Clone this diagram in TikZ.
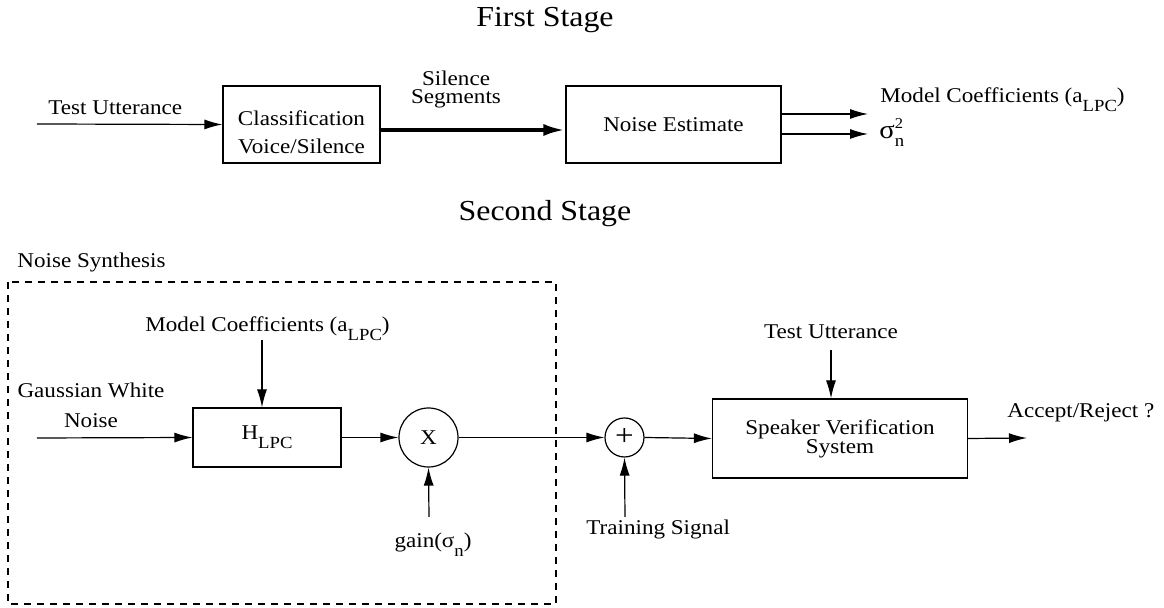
\documentclass[tikz,border=0pt]{standalone}
\usepackage{fontspec}
\setmainfont{Liberation Serif}[FakeStretch=1.1]
\usepackage{tikz}
\usetikzlibrary{calc, arrows.meta, positioning}
\newcommand{\lowsub}[1]{\raisebox{-4.5pt}{\fontsize{8.5}{10}\selectfont #1}}
\tikzset{
    block/.style={draw, rectangle, inner sep=0pt, line width=0.6pt, align=center},
    junc/.style={draw, circle, inner sep=0pt, line width=0.6pt},
    sig/.style={-{Latex[length=9pt,width=5pt]}, line width=0.6pt},
    bigsig/.style={-{Latex[length=11pt,width=6pt]}, line width=2pt},
    every node/.style={font=\fontsize{10.5}{13}\selectfont},
    title/.style={font=\fontsize{14.5}{17}\selectfont, anchor=base}
}

\begin{document}
\begin{tikzpicture}[x=0.5pt, y=-0.5pt]
        \useasboundingbox (0,0) rectangle (1164,608);
        \node[title] (tfirst) at (545,27) {First Stage};
        \node[title] (tsecond) at (545,221) {Second Stage};

        \node[block, minimum width=78.5pt, minimum height=38.5pt,
              label={[align=center, yshift=-4pt]center:Classification\\[1pt]Voice/Silence}] (cls) at (301.5,124.5) {};
        \node[block, minimum width=107.5pt, minimum height=38.5pt] (nest) at (673.5,124.5) {Noise Estimate};
        \coordinate (tuin) at (37,124);
        \coordinate (mcout) at (868,114);
        \coordinate (sgout) at (868,134);
        \node[anchor=base west, inner sep=0pt] (tulab) at (48,115) {Test Utterance};
        \node[anchor=south, inner sep=0pt, align=center] (silseg) at (456,108) {Silence\\[-4pt]Segments};
        \node[anchor=base west, inner sep=0pt] (mclab) at (880,103) {Model Coefficients (a\lowsub{LPC})};
        \node[anchor=base west, inner sep=0pt] (sglab) at (879,139)
            {\fontsize{13}{15}\selectfont σ\rlap{\raisebox{5pt}{\fontsize{7.5}{9}\selectfont 2}}\raisebox{-4pt}{\fontsize{8.5}{10}\selectfont n}};

        \draw[sig] (tuin) -- (cls.west);
        \draw[bigsig] ([yshift=-2.75pt]cls.east) -- ([yshift=-2.75pt]nest.west);
        \draw[sig] (nest.east |- mcout) -- (mcout);
        \draw[sig] (nest.east |- sgout) -- (sgout);

        \node[anchor=base west, inner sep=0pt] (nslab) at (17,268) {Noise Synthesis};
        \draw[dash pattern=on 3.5pt off 3pt, line width=0.6pt] (8,282) rectangle (556,604);

        \node[block, minimum width=74pt, minimum height=29.5pt] (hlpc) at (267,437.5) {H\lowsub{LPC}};
        \node[junc, minimum size=29.5pt] (mult) at (428.5,437.5) {X};
        \node[junc, minimum size=19.5pt, font=\fontsize{15}{15}\selectfont] (add) at (624.5,437.5) {+};
        \node[block, minimum width=127.5pt, minimum height=39.5pt] (svs) at (840,438.5) {Speaker Verification\\[-3.5pt]System};

        \node[anchor=base west, inner sep=0pt] (mc2lab) at (145,332) {Model Coefficients (a\lowsub{LPC})};
        \node[anchor=south, inner sep=0pt, align=center] (gwnlab) at (91,428) {Gaussian White\\[2pt]Noise};
        \node[anchor=base, inner sep=0pt] (gainlab) at (433,548) {gain(σ\lowsub{n})};
        \node[anchor=base west, inner sep=0pt] (trlab) at (586,535) {Training Signal};
        \node[anchor=base, inner sep=0pt] (tu2lab) at (831,339) {Test Utterance};
        \node[anchor=base west, inner sep=0pt] (acclab) at (1007,418) {Accept/Reject ?};

        \coordinate (mcin) at (262,340);
        \coordinate (gwnin) at (37,438);
        \coordinate (gainin) at (429,517);
        \coordinate (trin) at (625,517);
        \coordinate (tu2in) at (831,350);
        \coordinate (accout) at (1027,438);

        \draw[sig] (mcin) -- (mcin |- hlpc.north);
        \draw[sig] (gwnin) -- (hlpc.west);
        \draw[sig] (hlpc.east) -- (mult.west);
        \draw[sig] (gainin) -- (mult.south);
        \draw[sig] (mult.east) -- (add.west);
        \draw[sig] (trin) -- (add.south);
        \draw[sig] (add.east) -- (svs.west);
        \draw[sig] (tu2in) -- (tu2in |- svs.north);
        \draw[sig] (svs.east) -- (accout);
    \end{tikzpicture}
\end{document}
